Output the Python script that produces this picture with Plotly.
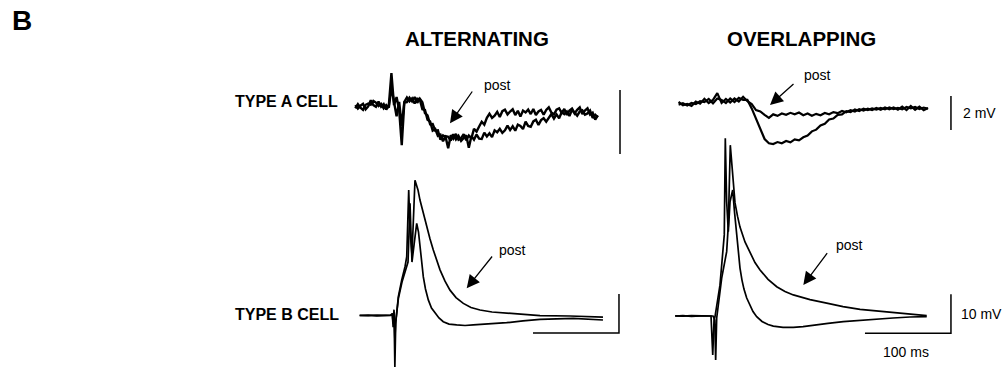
import plotly.graph_objects as go

# ---------------- data (time in ms, voltage in mV) ----------------
# ALTERNATING, type A cell (two superimposed noisy sweeps)
alt_a_t = [-45, -42, -39, -36, -33, -30, -27, -24, -21, -18, -15, -12, -9, -6, -3, 0, 3, 6, 9, 12,
           15, 18, 21, 24, 27, 30, 33, 36, 39, 42, 45, 48, 51, 54, 57, 60, 63, 66, 69, 72,
           75, 78, 81, 84, 87, 90, 93, 96, 99, 102, 105, 108, 111, 114, 117, 120, 123, 126, 129, 132,
           135, 138, 141, 144, 147, 150, 153, 156, 159, 162, 165, 168, 171, 174, 177, 180, 183, 186, 189, 192,
           195, 198, 201, 204, 207, 210, 213, 216, 219, 222, 225, 228, 231, 234, 237]
alt_a_post = [0.05, -0.06, 0.03, 0.09, -0.08, 0.01, 0.20, 0.05, 0.00, 0.16, 0.00, 0.08, -0.09, 0.04, 1.05, 0.05, 0.30, -0.10, -1.20, 0.13,
              0.14, 0.28, 0.17, 0.30, 0.12, 0.25, 0.14, -0.20, -0.27, -0.55, -0.54, -0.75, -0.74, -1.03, -0.90, -0.95, -1.30, -0.89, -1.00, -0.85,
              -1.03, -0.98, -0.86, -1.05, -0.90, -0.99, -0.69, -0.78, -0.62, -0.47, -0.56, -0.35, -0.22, -0.35, -0.28, -0.16, -0.32, -0.14, -0.09, -0.24,
              -0.15, -0.08, -0.26, -0.13, -0.31, -0.12, -0.18, -0.09, -0.23, -0.07, -0.26, -0.15, -0.10, -0.25, -0.10, -0.02, -0.18, -0.24, -0.09, -0.05,
              -0.20, -0.07, -0.26, -0.12, -0.06, -0.21, -0.10, -0.02, -0.23, -0.12, -0.05, -0.25, -0.19, -0.40, -0.27]
alt_a_pre = [-0.05, 0.08, -0.03, -0.10, 0.06, 0.10, 0.06, 0.18, 0.13, 0.02, 0.09, -0.05, 0.05, -0.03, 0.60, 0.20, -0.30, 0.15, -0.60, 0.15,
             0.29, 0.17, 0.26, 0.10, 0.25, 0.23, -0.08, -0.10, -0.41, -0.46, -0.75, -0.70, -0.91, -0.87, -1.08, -0.92, -0.94, -1.06, -0.86, -1.02,
             -0.91, -1.07, -0.97, -0.89, -1.28, -0.92, -1.03, -0.87, -1.00, -1.01, -0.81, -0.93, -0.83, -0.95, -0.74, -0.80, -0.69, -0.82, -0.74, -0.59,
             -0.73, -0.61, -0.75, -0.56, -0.60, -0.70, -0.47, -0.60, -0.63, -0.46, -0.41, -0.57, -0.42, -0.36, -0.47, -0.36, -0.23, -0.37, -0.24, -0.36,
             -0.17, -0.23, -0.15, -0.29, -0.10, -0.19, -0.28, -0.15, -0.11, -0.25, -0.21, -0.12, -0.35, -0.25, -0.33]

# OVERLAPPING, type A cell
ovl_a_t = [-40, -35, -30, -25, -20, -15, -10, -5, 0, 5, 10, 15, 20, 25, 30, 35, 40, 45, 50, 55,
           60, 65, 70, 75, 80, 85, 90, 95, 100, 105, 110, 115, 120, 125, 130, 135, 140, 145, 150, 155,
           160, 165, 170, 175, 180, 185, 190, 195, 200, 205, 210, 215, 220, 225, 230, 235, 240, 245, 250]
ovl_a_post = [0.18, -0.02, 0.06, -0.05, 0.20, 0.08, 0.36, 0.12, 0.30, 0.70, 0.12, 0.36, 0.14, 0.38, 0.20, 0.48, 0.22, 0.05, -0.30, -0.38,
              -0.58, -0.76, -0.55, -0.64, -0.50, -0.58, -0.46, -0.55, -0.44, -0.60, -0.50, -0.63, -0.52, -0.60, -0.47, -0.55, -0.42, -0.48, -0.35, -0.43,
              -0.30, -0.38, -0.24, -0.33, -0.22, -0.30, -0.18, -0.28, -0.15, -0.25, -0.14, -0.28, -0.10, -0.30, -0.06, -0.28, -0.10, -0.30, -0.18]
ovl_a_pre = [0.02, 0.10, -0.03, 0.12, 0.05, 0.22, 0.17, 0.36, 0.10, 0.38, 0.30, 0.12, 0.38, 0.18, 0.42, 0.30, 0.30, -0.20, -0.80, -1.45,
             -2.00, -2.25, -2.30, -2.18, -2.25, -2.12, -2.20, -2.02, -2.08, -1.90, -1.80, -1.55, -1.45, -1.20, -1.10, -0.85, -0.80, -0.58, -0.55, -0.36,
             -0.42, -0.26, -0.35, -0.22, -0.30, -0.20, -0.27, -0.17, -0.26, -0.14, -0.24, -0.17, -0.26, -0.12, -0.20, -0.12, -0.24, -0.15, -0.22]

# ALTERNATING, type B cell
alt_b_post_t = [-40, -30, -20, -10, -4, -2, -1, 0, 1, 2, 3, 5, 9, 12.8, 14.8, 17.1, 18.6, 20.9, 24.4, 27.9,
                30.2, 33.7, 38.0, 41.9, 45.7, 49.7, 53.5, 59.3, 65.1, 72.1, 80.6, 89.5, 100, 114, 131, 148.8, 169.8, 204.7, 243]
alt_b_post_v = [0, 0.1, -0.1, 0, 0.1, 0.5, -3, 1.5, -13.2, -2, 0.6, 4.8, 9.1, 12.5, 15.1, 32.2, 21.9, 15.5, 34.7, 32.2,
                29.6, 26.5, 22.8, 19.6, 16.8, 14.1, 11.7, 8.8, 6.5, 4.6, 3.1, 2.05, 1.4, 0.9, 0.56, 0.26, -0.05, -0.13, -0.4]
alt_b_pre_t = [-40, -30, -20, -10, -4, -2, -1, 0, 1, 2, 3.1, 5.2, 9.3, 13.4, 16.3, 18.6, 19.8, 20.9, 23.3, 26.4,
               28.5, 30.2, 32.2, 34.1, 36.6, 39.9, 43.6, 47.7, 52.3, 57.3, 64.0, 72.9, 82.6, 92.2, 111.6, 131, 150, 169.8,
               208.5, 243]
alt_b_pre_v = [0.05, -0.05, 0.1, 0, 0, 0.3, -2, 1, -6, -1.5, 0.64, 4.5, 8.6, 11.7, 13.7, 28.8, 20.6, 13.7, 18.1, 23.6,
               21.4, 17.6, 13.7, 9.9, 6.8, 4.0, 1.9, 0.56, -0.64, -1.6, -2.2, -2.4, -2.56, -2.4, -2.2, -1.85, -1.4, -0.97,
               -0.72, -1.15]

# OVERLAPPING, type B cell
ovl_b_post_t = [-44, -35, -25, -15, -5, 0, 2, 3.1, 4.3, 10.1, 15.9, 17.8, 20.1, 23.6, 25.6, 28.5, 31.4, 37.2, 43.0, 48.8,
                54.7, 64.0, 74.1, 83.7, 93.4, 112.8, 132.2, 151.2, 171, 189.5, 209.7, 229.1, 248.5]
ovl_b_post_v = [0, 0.1, -0.1, 0.05, 0, 0, -1, -11.3, -0.5, 9.7, 16.5, 23.3, 43.8, 34.9, 29.0, 25.6, 22.8, 19.0, 16.2, 13.7,
                11.8, 9.4, 7.5, 6.3, 5.4, 4.2, 3.3, 2.4, 1.7, 1.3, 0.85, 0.44, 0.08]
ovl_b_pre_t = [-44, -35, -25, -15, -5, -2.3, -0.3, 1.2, 2.3, 8.1, 13.1, 14.3, 15.9, 17.8, 19.8, 22.9, 25.0, 27.6, 29.7, 31.4,
               33.7, 36.0, 39.2, 43.0, 46.5, 50.8, 57.0, 64.0, 70.1, 81.4, 93.4, 104.7, 116.6, 133.7, 151.5, 171, 190.3,
               209.3, 229, 248.5]
ovl_b_pre_v = [0.05, -0.05, 0.1, 0, 0.05, 0, -10, -1, -0.2, 7.9, 20.8, 45.6, 29.3, 21.6, 29.3, 32.3, 26.7, 20.8, 15.6, 12.3,
               9.2, 6.9, 4.6, 2.6, 1.15, -0.18, -1.4, -2.2, -2.6, -2.9, -2.9, -2.7, -2.3, -1.87, -1.46, -1.08, -0.77,
               -0.51, -0.26, -0.18]

# scale bars
bar_time_ms = 100
bar_b_mV = 10
bar_a_mV = 2

# ---------------- layout geometry (pixels) ----------------
W, H = 1007, 369
PX_PER_MS = 0.86
col_t0_px = {"alt": 394, "ovl": 713}
row_cfg = {  # zero-mV pixel row, pixels per mV
    "alt_b": (315.5, 3.9),
    "ovl_b": (316.0, 3.9),
    "alt_a": (106.7, 32.0),
    "ovl_a": (105.0, 17.0),
}


def xrange_for(col):
    t0 = col_t0_px[col]
    return [-t0 / PX_PER_MS, (W - t0) / PX_PER_MS]


def yrange_for(row):
    y0, s = row_cfg[row]
    return [-(H - y0) / s, y0 / s]


fig = go.Figure()
black = "#000000"


def add_line(x, y, xa, ya, width=1.6):
    fig.add_trace(go.Scatter(x=x, y=y, mode="lines", xaxis=xa, yaxis=ya,
                             line=dict(color=black, width=width), hoverinfo="skip",
                             showlegend=False))


# type A traces
add_line(alt_a_t, alt_a_pre, "x", "y3", 2.4)
add_line(alt_a_t, alt_a_post, "x", "y3", 2.4)
add_line(ovl_a_t, ovl_a_pre, "x2", "y4", 2.2)
add_line(ovl_a_t, ovl_a_post, "x2", "y4", 2.2)
# type B traces
add_line(alt_b_pre_t, alt_b_pre_v, "x", "y", 1.7)
add_line(alt_b_post_t, alt_b_post_v, "x", "y", 1.7)
add_line(ovl_b_pre_t, ovl_b_pre_v, "x2", "y2", 1.7)
add_line(ovl_b_post_t, ovl_b_post_v, "x2", "y2", 1.7)

# scale bars (L-shapes and vertical bars)
add_line([161.6, 161.6 + bar_time_ms, 161.6 + bar_time_ms], [-4.5, -4.5, -4.5 + bar_b_mV], "x", "y", 1.5)
add_line([176.7, 176.7 + bar_time_ms, 176.7 + bar_time_ms], [-4.4, -4.4, -4.4 + bar_b_mV], "x2", "y2", 1.5)
add_line([262.8, 262.8], [-1.48, -1.48 + bar_a_mV], "x", "y3", 1.5)
add_line([276.7, 276.7], [-1.47, -1.47 + bar_a_mV], "x2", "y4", 1.5)

ax_common = dict(visible=False, showgrid=False, zeroline=False, fixedrange=True, domain=[0, 1])
fig.update_layout(
    width=W, height=H, autosize=False,
    margin=dict(l=0, r=0, t=0, b=0),
    paper_bgcolor="white", plot_bgcolor="white",
    xaxis=dict(range=xrange_for("alt"), **ax_common),
    xaxis2=dict(range=xrange_for("ovl"), overlaying="x", **ax_common),
    yaxis=dict(range=yrange_for("alt_b"), **ax_common),
    yaxis2=dict(range=yrange_for("ovl_b"), overlaying="y", **ax_common),
    yaxis3=dict(range=yrange_for("alt_a"), overlaying="y", **ax_common),
    yaxis4=dict(range=yrange_for("ovl_a"), overlaying="y", **ax_common),
)

FONT = "Liberation Sans, Arial, sans-serif"


def px(x):
    return x / W


def py(y):
    return 1 - y / H


def text(s, x, y, size, bold=False, xanchor="center"):
    fig.add_annotation(text=f"<b>{s}</b>" if bold else s, x=px(x), y=py(y), xref="paper", yref="paper",
                       showarrow=False, xanchor=xanchor, yanchor="middle",
                       font=dict(family=FONT, size=size, color=black))


def arrow(tail, tip):
    fig.add_annotation(text="", x=px(tip[0]), y=py(tip[1]), xref="paper", yref="paper",
                       ax=tail[0] - tip[0], ay=tail[1] - tip[1], axref="pixel", ayref="pixel",
                       showarrow=True, arrowhead=2, arrowsize=2, arrowwidth=1.3, arrowcolor=black,
                       standoff=0)


text("B", 22, 21, 28, bold=True)
text("ALTERNATING", 477, 38, 20.5, bold=True)
text("OVERLAPPING", 801, 38, 20.5, bold=True)
text("TYPE A CELL", 286.5, 102, 16, bold=True)
text("TYPE B CELL", 286.5, 314, 16, bold=True)

text("post", 497, 85, 14)
text("post", 817, 75, 14)
text("post", 512, 250, 14)
text("post", 849, 245, 14)
arrow((473.3, 90), (450, 123.3))
arrow((795, 82.7), (770, 105))
arrow((493.3, 255), (466.7, 288.3))
arrow((828.3, 251.7), (803.3, 285))

text("2 mV", 961, 113, 14, xanchor="left")
text("10 mV", 959, 314, 14, xanchor="left")
text("100 ms", 906, 352, 14)

fig.write_html("out.html", config={"displayModeBar": False},
               post_script="document.body.style.margin='0';document.body.style.padding='0';")
